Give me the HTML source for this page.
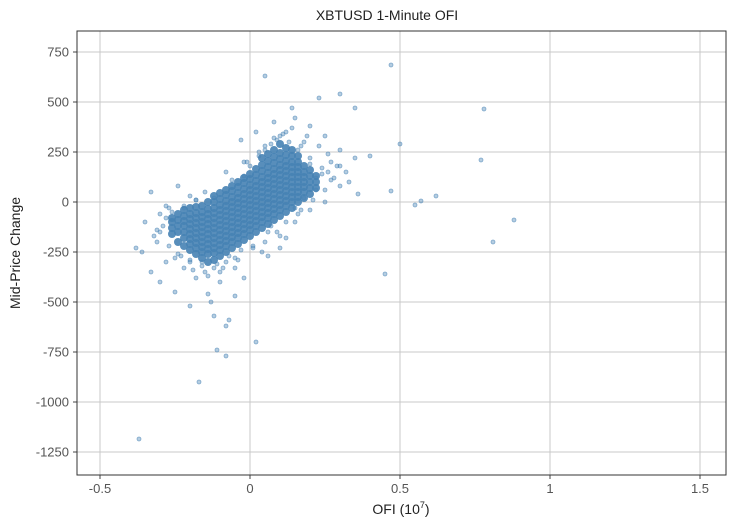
<!DOCTYPE html>
<html><head><meta charset="utf-8"><style>
body{margin:0;background:#fff;font-family:"Liberation Sans",sans-serif}
</style></head><body>
<svg id="chart" width="739" height="528" xmlns="http://www.w3.org/2000/svg" style="display:block"></svg>
<script>
const xTicks=[-0.5,0,0.5,1,1.5];
const xTickLabels=["-0.5","0","0.5","1","1.5"];
const yTicks=[750,500,250,0,-250,-500,-750,-1000,-1250];
const yTickLabels=["750","500","250","0","-250","-500","-750","-1000","-1250"];
const coreColumnsX=[-0.26,-0.24,-0.22,-0.20,-0.18,-0.16,-0.14,-0.12,-0.10,-0.08,-0.06,-0.04,-0.02,0.00,0.02,0.04,0.06,0.08,0.10,0.12,0.14,0.16,0.18,0.20,0.22];
const coreColumnsY=[
[-160,-130,-100,-80],
[-200,-150,-120,-90,-60],
[-220,-180,-150,-120,-95,-70,-40],
[-240,-210,-185,-160,-135,-110,-85,-60,-30],
[-260,-230,-205,-180,-155,-130,-105,-80,-55,-25],
[-280,-250,-225,-200,-175,-150,-125,-100,-75,-50,-20],
[-300,-260,-235,-210,-185,-160,-135,-110,-85,-60,-35,0],
[-290,-255,-230,-205,-180,-155,-130,-105,-80,-55,-30,0,30],
[-270,-240,-215,-190,-165,-140,-115,-90,-65,-40,-15,15,45],
[-250,-220,-195,-170,-145,-120,-95,-70,-45,-20,5,35,60],
[-230,-200,-175,-150,-125,-100,-75,-50,-25,0,25,55,80],
[-210,-180,-155,-130,-105,-80,-55,-30,-5,20,45,75,100],
[-190,-160,-135,-110,-85,-60,-35,-10,15,40,65,95,120],
[-170,-140,-115,-90,-65,-40,-15,10,35,60,85,115,140],
[-150,-120,-95,-70,-45,-20,5,30,55,80,105,135,165],
[-130,-100,-75,-50,-25,0,25,50,75,100,125,155,185,220],
[-110,-80,-55,-30,-5,20,45,70,95,120,145,175,205,240],
[-90,-60,-35,-10,15,40,65,90,115,140,165,195,225,260],
[-70,-40,-15,10,35,60,85,110,135,160,185,215,245,290],
[-50,-20,5,30,55,80,105,130,155,180,205,235,270],
[-30,0,25,50,75,100,125,150,175,200,230,260],
[0,25,50,75,100,125,150,175,200,230],
[20,50,75,100,125,150,180],
[40,70,100,130,160],
[70,100,130]];
const outlierX=[0.47,0.78,0.5,0.77,0.47,0.55,0.57,0.62,0.88,0.81,0.45,-0.37,-0.17,-0.08,-0.11,0.02,-0.07,0.05,0.3,0.23,0.14,0.35,
-0.33,-0.36,-0.3,-0.25,-0.2,-0.14,-0.13,-0.05,-0.35,-0.31,-0.27,-0.33,-0.24,-0.18,-0.1,-0.02,0.06,0.1,0.15,0.2,0.25,0.3,0.32,0.35,0.3,0.25,0.2,0.15,0.08,0.02,-0.03,0.27,0.22,-0.38,-0.28,-0.12,-0.08,0.07,0.33,0.4,0.36,-0.22,-0.05,0.12,0.18,0.12,-0.08,-0.15,-0.2,-0.3,-0.28,0.05,0.25,0.1,0.05,-0.1,-0.16,
-0.29,-0.32,-0.26,-0.22,-0.18,-0.12,-0.06,0.0,0.04,0.1,0.16,0.21,0.24,0.28,0.26,0.23,0.19,0.14,0.08,0.03,-0.02,-0.09,-0.14,-0.2,-0.25,-0.3,-0.04,0.01,0.17,0.29,
0.05,0.09,0.13,0.17,0.11,0.07,0.03,-0.01,0.2,0.24,0.27,0.22,0.18,0.15,-0.05,-0.08,-0.12,-0.16,-0.2,-0.23,-0.27,-0.31,-0.24,-0.19,-0.15,-0.11,-0.07,-0.03,0.01,0.06,0.12,0.26,0.3,0.2,0.16,-0.22,-0.28,-0.18,0.09,-0.02];
const outlierY=[685,465,290,210,55,-15,5,30,-90,-200,-360,-1185,-900,-770,-740,-700,-590,630,540,520,470,470,
-350,-250,-400,-450,-520,-460,-500,-470,-100,-200,-30,50,80,-380,-400,-380,-270,-230,-100,-40,0,80,150,220,260,330,380,420,400,350,310,200,120,-230,-300,-570,-620,-120,100,230,40,-330,-330,-180,300,350,150,50,30,-150,-80,-200,60,330,280,-350,-300,
-120,-170,-50,-20,10,20,110,180,-250,-170,-60,10,140,120,240,280,330,370,320,250,200,-330,-370,-300,-280,-60,-290,-230,-40,180,
260,310,300,280,340,290,230,200,190,170,110,60,20,-30,-280,-300,-330,-320,-290,-270,-220,-140,-260,-340,-350,-310,-270,-240,-220,-150,-100,150,180,220,260,-30,-20,10,-150,130];

const NS="http://www.w3.org/2000/svg";
const svg=document.getElementById('chart');
const L=77,R=726,T=31,B=475;
const xs=v=>250+v*300;
const ys=v=>202-v*0.2;
function mk(tag,attrs,parent){const e=document.createElementNS(NS,tag);for(const k in attrs)e.setAttribute(k,attrs[k]);(parent||svg).appendChild(e);return e;}

const grid=mk('g',{});


xTicks.forEach((t,i)=>{
  mk('line',{x1:xs(t),x2:xs(t),y1:T,y2:B,stroke:'#c8c8c8','stroke-width':1},grid);
  mk('line',{x1:xs(t),x2:xs(t),y1:B,y2:B+4,stroke:'#444','stroke-width':1});
  const tx=mk('text',{x:xs(t),y:B+18,'text-anchor':'middle','font-size':13,fill:'#555'});
  
  
  tx.textContent=xTickLabels[i];
});
yTicks.forEach((t,i)=>{
  mk('line',{x1:L,x2:R,y1:ys(t),y2:ys(t),stroke:'#c8c8c8','stroke-width':1},grid);
  mk('line',{x1:L-4,x2:L,y1:ys(t),y2:ys(t),stroke:'#444','stroke-width':1});
  const tx=mk('text',{x:L-8,y:ys(t)+4.5,'text-anchor':'end','font-size':13,fill:'#555'});
  
  
  tx.textContent=yTickLabels[i];
});

const outPts=mk('g',{fill:'#4682b4','fill-opacity':0.4,stroke:'#4682b4','stroke-opacity':0.6,'stroke-width':0.8});


outlierX.forEach((x,i)=>{
  const c=mk('circle',{cx:xs(x),cy:ys(outlierY[i]),r:2},outPts);
  
  
});
const corePts=mk('g',{fill:'#4682b4','fill-opacity':0.9,stroke:'none'});


coreColumnsX.forEach((x,i)=>{
  coreColumnsY[i].forEach(y=>{
    const c=mk('circle',{cx:xs(x),cy:ys(y),r:4},corePts);
    
    
  });
});

const frame=mk('rect',{x:L,y:T,width:R-L,height:B-T,fill:'none',stroke:'#333','stroke-width':1});



const title=mk('text',{x:387,y:20,'text-anchor':'middle','font-size':14,fill:'#222'});


title.textContent='XBTUSD 1-Minute OFI';

const xt=mk('text',{x:401,y:514,'text-anchor':'middle','font-size':14,fill:'#222'});


xt.innerHTML='OFI (10<tspan dy="-6" font-size="9">7</tspan><tspan dy="6">)</tspan>';

const yt=mk('text',{x:20,y:253,'text-anchor':'middle','font-size':14,fill:'#222',transform:'rotate(-90 20 253)'});


yt.textContent='Mid-Price Change';
</script>
</body></html>
